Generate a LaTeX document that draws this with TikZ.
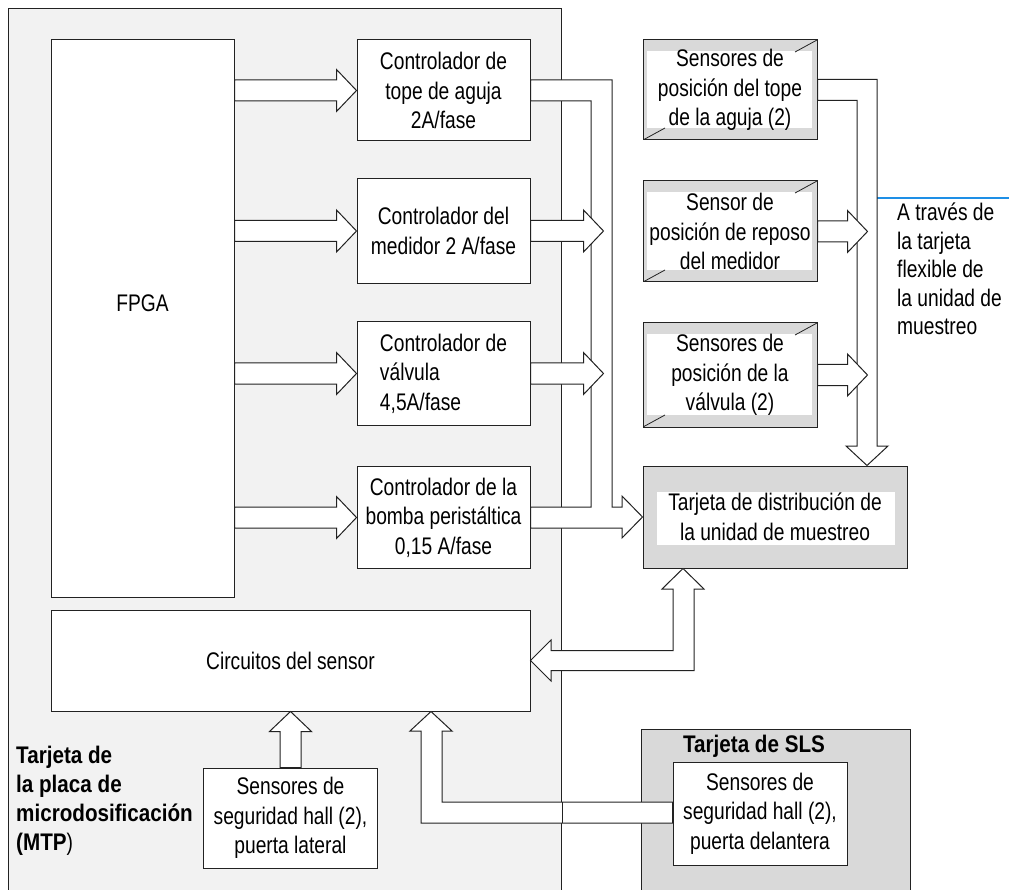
\documentclass[tikz,border=0pt]{standalone}
\usepackage{fontspec}
\setmainfont{Liberation Sans}[FakeStretch=0.8,BoldFeatures={FakeStretch=0.86}]
\usetikzlibrary{calc}
\definecolor{mtpbg}{HTML}{F2F2F2}
\definecolor{cardbg}{HTML}{D9D9D9}
\definecolor{linec}{HTML}{222222}
\definecolor{bluel}{HTML}{1E8FE6}
\newcommand\fatarrow[2]{%
  \path #1 coordinate (fa-s) #2 coordinate (fa-t);
  \path ($(fa-t)!20pt!(fa-s)$) coordinate (fa-b);
  \filldraw[pipe] ($(fa-s)!10.5pt!90:(fa-t)$) -- ($(fa-b)!10.5pt!90:(fa-t)$) -- ($(fa-b)!21pt!90:(fa-t)$) -- (fa-t) -- ($(fa-b)!21pt!-90:(fa-t)$) -- ($(fa-b)!10.5pt!-90:(fa-t)$) -- ($(fa-s)!10.5pt!-90:(fa-t)$) -- cycle;
}
\begin{document}
\begin{tikzpicture}[x=1pt,y=-1pt,
  every node/.style={font=\fontsize{24}{29.5}\selectfont},
  blk/.style={draw=linec, line width=1pt, fill=white, align=center, inner sep=0pt},
  sens/.style={blk, fill=cardbg, path picture={
    \fill[white] ([xshift=4pt,yshift=-11pt]path picture bounding box.north west) rectangle ([xshift=-5pt,yshift=12pt]path picture bounding box.south east);
    \draw[linec,line width=0.8pt] (path picture bounding box.north east) -- ++(-22pt,-12pt);
    \draw[linec,line width=0.8pt] (path picture bounding box.south west) -- ++(22pt,12pt);}},
  distc/.style={blk, fill=cardbg, path picture={
    \fill[white] ([xshift=14pt,yshift=-26pt]path picture bounding box.north west) rectangle ([xshift=-12pt,yshift=23pt]path picture bounding box.south east);}},
  pipe/.style={draw=linec, fill=white, line width=1pt, line join=miter},
  board/.style={draw=linec, line width=1pt, inner sep=0pt},
  title/.style={font=\bfseries\fontsize{24}{29}\selectfont, inner sep=0pt, align=left}
 ]
\useasboundingbox (0,0) rectangle (1009,890);
% boards
\node[board, fill=mtpbg, minimum width=553pt, minimum height=900pt, anchor=north west] (mtp) at (8,8) {};
\node[board, fill=cardbg, minimum width=269pt, minimum height=180pt, anchor=north west] (sls) at (641,729) {};
% blocks
\node[blk, minimum width=183pt, minimum height=557pt, label={[yshift=15.5pt]center:FPGA}] (fpga) at (142.5,318.5) {};
\node[blk, minimum width=173pt, minimum height=101pt] (tope) at (443.5,90.5) {Controlador de\\tope de aguja\\2A/fase};
\node[blk, minimum width=173pt, minimum height=105pt] (med) at (443.5,231) {Controlador del\\medidor 2 A/fase};
\node[blk, align=left, minimum width=173pt, minimum height=104pt] (valv) at (443.5,373.5) {Controlador de\\válvula\\4,5A/fase};
\node[blk, minimum width=173pt, minimum height=102pt] (bomba) at (443.5,517.5) {Controlador de la\\bomba peristáltica\\0,15 A/fase};
\node[blk, minimum width=479pt, minimum height=101pt] (circ) at (290.5,660.5) {Circuitos del sensor};
\node[blk, minimum width=174pt, minimum height=100pt] (lat) at (290.5,818) {Sensores de\\seguridad hall (2),\\puerta lateral};
\node[sens, minimum width=174pt, minimum height=100pt] (s1) at (730,90) {Sensores de\\posición del tope\\de la aguja (2)};
\node[sens, minimum width=174pt, minimum height=101pt] (s2) at (730,231.5) {Sensor de\\posición de reposo\\del medidor};
\node[sens, minimum width=174pt, minimum height=104pt] (s3) at (730,375) {Sensores de\\posición de la\\válvula (2)};
\node[distc, minimum width=264pt, minimum height=102pt] (dist) at (775,517) {Tarjeta de distribución de\\la unidad de muestreo};
\node[blk, minimum width=174pt, minimum height=103pt] (slss) at (760,813.5) {Sensores de\\seguridad hall (2),\\puerta delantera};
% labels
\node[title, anchor=north] (slst) at (754,735) {Tarjeta de SLS};
\node[title, anchor=north west] (mtpt) at (16,746) {Tarjeta de\\la placa de\\microdosificación\\(MTP{\mdseries)}};
\node[inner sep=0pt, align=left, anchor=north west, font=\fontsize{24}{28.5}\selectfont] (via) at (897,203) {A través de\\la tarjeta\\flexible de\\la unidad de\\muestreo};
\draw[bluel, line width=2.5pt] (870,198) -- (1009,198);
% arrows FPGA -> controllers
\fatarrow{(fpga.east |- tope.west)}{(tope.west)}
\fatarrow{(fpga.east |- med.west)}{(med.west)}
\fatarrow{(fpga.east |- valv.west)}{(valv.west)}
\fatarrow{(fpga.east |- bomba.west)}{(bomba.west)}
% bus from tope and bomba controllers to distribution card
\filldraw[pipe] ($(tope.east)+(0,-10.5)$) -- (612,80) -- (612,507) -- (622,507) -- (622,496) -- (dist.west) -- (622,538) -- (622,528) -- ($(bomba.east)+(0,10.5)$) -- ($(bomba.east)+(0,-10.5)$) -- (591,507) -- (591,101) -- ($(tope.east)+(0,10.5)$) -- cycle;
\fatarrow{(med.east)}{($(med.east)+(73,0)$)}
\fatarrow{(valv.east)}{($(valv.east)+(73,0)$)}
% sensors to distribution card
\filldraw[pipe] ($(s1.east)+(0,-10.5)$) -- (877,79.5) -- (877,446) -- (888,446) -- (dist.north -| 867,0) -- (846,446) -- (857,446) -- (857,100.5) -- ($(s1.east)+(0,10.5)$) -- cycle;
\fatarrow{(s2.east)}{($(s2.east)+(50,0)$)}
\fatarrow{(s3.east)}{($(s3.east)+(50,0)$)}
% distribution card to sensor circuits
\filldraw[pipe] ($(dist.south)+(-92,0)$) -- (704,589) -- (694,589) -- (694,670.5) -- (551,670.5) -- (551,681) -- (circ.east) -- (551,640) -- (551,650.5) -- (673,650.5) -- (673,589) -- (662,589) -- cycle;
% hall sensors to sensor circuits
\fatarrow{(lat.north)}{(lat.north |- circ.south)}
\filldraw[pipe] ($(slss.west)+(0,-11.5)$) -- (442,802) -- (442,731) -- (452,731) -- (circ.south -| 431,0) -- (410,731) -- (421,731) -- (421,823) -- ($(slss.west)+(0,9.5)$) -- cycle;
\draw[linec, line width=1pt] (mtp.north east |- 0,802) -- (mtp.north east |- 0,823);
\end{tikzpicture}
\end{document}
